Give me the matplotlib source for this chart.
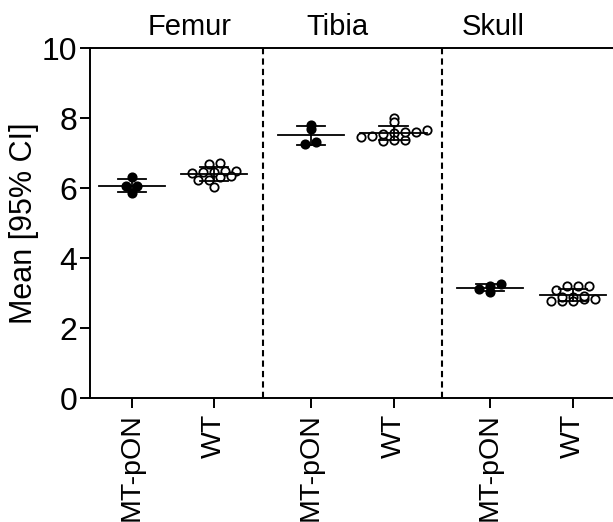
import numpy as np
import matplotlib
matplotlib.use("Agg")
import matplotlib.pyplot as plt
import matplotlib.transforms as mtrans

plt.rcParams['font.family'] = ['Liberation Sans', 'DejaVu Sans']

tissues = ['Femur', 'Tibia', 'Skull']
genotypes = ['MT-pON', 'WT']

femur_mt = [6.06, 6.31, 5.86, 6.06]
femur_wt = [6.72, 6.70, 6.50, 6.48, 6.46, 6.45, 6.44, 6.36, 6.33, 6.24, 6.22, 6.04]
tibia_mt = [7.80, 7.69, 7.25, 7.31]
tibia_wt = [8.00, 7.90, 7.62, 7.58, 7.49, 7.38, 7.36, 7.38, 7.47, 7.55, 7.60, 7.65]
skull_mt = [3.20, 3.04, 3.13, 3.26]
skull_wt = [3.09, 3.20, 3.20, 3.20, 2.89, 2.82, 2.78, 2.78, 2.78, 2.82, 2.88, 2.91]

groups = [femur_mt, femur_wt, tibia_mt, tibia_wt, skull_mt, skull_wt]

fig = plt.figure(figsize=(6.13, 5.22), dpi=100)
ax = fig.add_axes([0.1468, 0.2375, 0.8532, 0.67])

gap = 1.168
xpos = [0, 1, 1 + gap, 2 + gap, 2 + 2 * gap, 3 + 2 * gap]
ax.set_xlim(-0.505, xpos[-1] + 0.488)
ax.set_ylim(0, 10)

# pixel scale for the scatter layout (Prism-like rows)
px_x = 0.8532 * 613 / (ax.get_xlim()[1] - ax.get_xlim()[0])
px_y = 0.67 * 522 / 10.0
spacing = 11.0
row_h = 9.0


def spread(vals):
    offs = np.zeros(len(vals))
    rows = np.floor(vals * px_y / row_h)
    for r in np.unique(rows):
        idx = np.where(rows == r)[0]
        idx = idx[np.argsort(vals[idx])]
        n = len(idx)
        for j, i in enumerate(idx):
            offs[i] = (j - (n - 1) / 2) * spacing / px_x
    return offs


for k, vals in enumerate(groups):
    vals = np.array(vals)
    x0 = xpos[k]
    m = vals.mean()
    sd = vals.std(ddof=1)
    filled = (k % 2 == 0)
    off = spread(vals)
    ax.plot(x0 + off, vals, 'o', ms=6.0, mec='black', mew=1.3,
            mfc='black' if filled else 'white', zorder=2, clip_on=False)
    ax.plot([x0 - 0.4, x0 + 0.4], [m, m], color='black', lw=1.3, zorder=3)
    ax.plot([x0, x0], [m - sd, m + sd], color='black', lw=1.3, zorder=3)
    for yy in (m - sd, m + sd):
        ax.plot([x0 - 0.17, x0 + 0.17], [yy, yy], color='black', lw=1.3, zorder=3)

for s in [(xpos[1] + xpos[2]) / 2, (xpos[3] + xpos[4]) / 2]:
    ax.axvline(s, color='black', lw=1.5, ls=(0, (3, 2)), zorder=1)

title_x = [0.706, 2.485, 4.37]
trans = mtrans.blended_transform_factory(ax.transData, fig.transFigure)
for t, tx in zip(tissues, title_x):
    ax.text(tx, 0.948, t, transform=trans, ha='center', va='center', fontsize=21)

ax.set_xticks(xpos)
ax.set_xticklabels(genotypes * 3, rotation=90, fontsize=20.5)
ax.set_yticks(range(0, 11, 2))
ax.tick_params(axis='y', labelsize=23, length=7, width=1.4, pad=2)
ax.tick_params(axis='x', length=7, width=1.4, pad=4)
ax.set_ylabel('Mean [95% CI]', fontsize=22, labelpad=2)

for sp in ['left', 'bottom', 'top']:
    ax.spines[sp].set_linewidth(1.4)
ax.spines['right'].set_visible(False)

fig.savefig('out.png', dpi=100)
